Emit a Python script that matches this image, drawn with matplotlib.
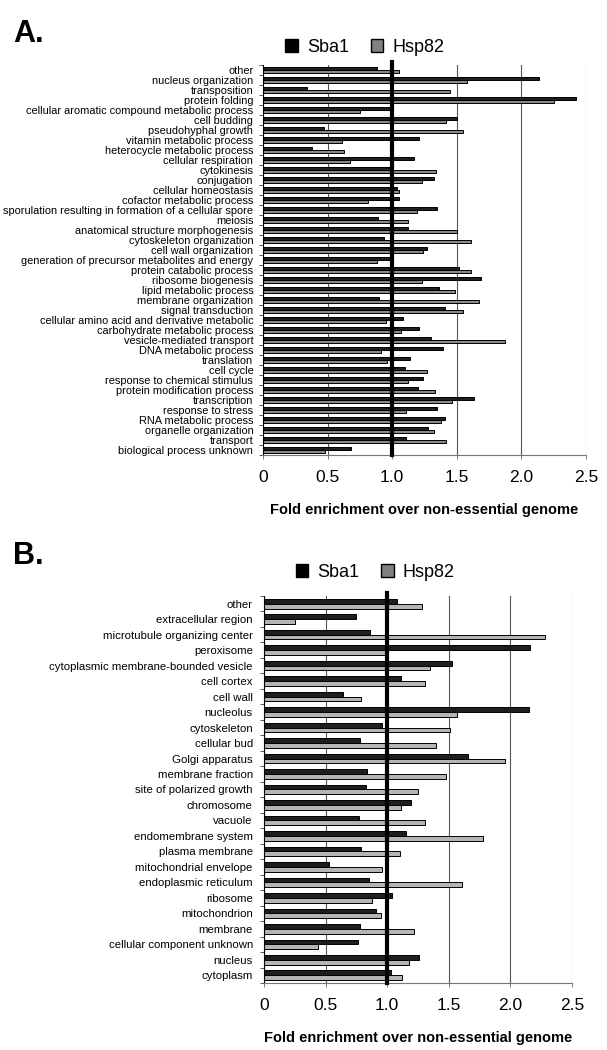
import matplotlib.pyplot as plt
from matplotlib.patches import Patch
import numpy as np

plt.rcParams.update({
    "font.family": ["Liberation Sans", "DejaVu Sans"],
})

# panel A: biological process categories (top to bottom)
process_names = [
    'other', 'nucleus organization', 'transposition', 'protein folding',
    'cellular aromatic compound metabolic process', 'cell budding',
    'pseudohyphal growth', 'vitamin metabolic process',
    'heterocycle metabolic process', 'cellular respiration', 'cytokinesis',
    'conjugation', 'cellular homeostasis', 'cofactor metabolic process',
    'sporulation resulting in formation of a cellular spore', 'meiosis',
    'anatomical structure morphogenesis', 'cytoskeleton organization',
    'cell wall organization', 'generation of precursor metabolites and energy',
    'protein catabolic process', 'ribosome biogenesis',
    'lipid metabolic process', 'membrane organization', 'signal transduction',
    'cellular amino acid and derivative metabolic',
    'carbohydrate metabolic process', 'vesicle-mediated transport',
    'DNA metabolic process', 'translation', 'cell cycle',
    'response to chemical stimulus', 'protein modification process',
    'transcription', 'response to stress', 'RNA metabolic process',
    'organelle organization', 'transport', 'biological process unknown',
]
process_sba1 = [0.88, 2.14, 0.34, 2.42, 1.00, 1.50, 0.47, 1.21, 0.38, 1.17,
                1.00, 1.32, 1.04, 1.05, 1.35, 0.89, 1.12, 0.94, 1.27, 1.00,
                1.52, 1.69, 1.36, 0.90, 1.41, 1.08, 1.21, 1.30, 1.39, 1.14,
                1.10, 1.24, 1.20, 1.63, 1.35, 1.41, 1.28, 1.11, 0.68]
process_hsp82 = [1.05, 1.58, 1.45, 2.25, 0.75, 1.42, 1.55, 0.61, 0.63, 0.67,
                 1.34, 1.23, 1.05, 0.81, 1.19, 1.12, 1.50, 1.61, 1.24, 0.88,
                 1.61, 1.23, 1.49, 1.67, 1.55, 0.95, 1.07, 1.87, 0.91, 0.96,
                 1.27, 1.12, 1.33, 1.46, 1.11, 1.38, 1.32, 1.42, 0.48]

# panel B: cellular component categories (top to bottom)
component_names = [
    'other', 'extracellular region', 'microtubule organizing center',
    'peroxisome', 'cytoplasmic membrane-bounded vesicle', 'cell cortex',
    'cell wall', 'nucleolus', 'cytoskeleton', 'cellular bud',
    'Golgi apparatus', 'membrane fraction', 'site of polarized growth',
    'chromosome', 'vacuole', 'endomembrane system', 'plasma membrane',
    'mitochondrial envelope', 'endoplasmic reticulum', 'ribosome',
    'mitochondrion', 'membrane', 'cellular component unknown', 'nucleus',
    'cytoplasm',
]
component_sba1 = [1.08, 0.75, 0.86, 2.16, 1.53, 1.11, 0.64, 2.15, 0.96, 0.78,
                  1.66, 0.84, 0.83, 1.19, 0.77, 1.15, 0.79, 0.53, 0.85, 1.04,
                  0.91, 0.78, 0.76, 1.26, 1.03]
component_hsp82 = [1.28, 0.25, 2.28, 0.99, 1.35, 1.31, 0.79, 1.57, 1.51, 1.40,
                   1.96, 1.48, 1.25, 1.11, 1.31, 1.78, 1.10, 0.96, 1.61, 0.88,
                   0.95, 1.22, 0.44, 1.18, 1.12]

xticks = [0, 0.5, 1.0, 1.5, 2.0, 2.5]
xtick_labels = ['0', '0.5', '1.0', '1.5', '2.0', '2.5']

fig = plt.figure(figsize=(6.07, 10.5), dpi=100)
ax1 = fig.add_axes([0.4333, 0.5667, 0.532, 0.3714])
ax2 = fig.add_axes([0.4349, 0.0638, 0.5074, 0.3686])

sba1_color = '#1e1e1e'


def plot_panel(ax, names, sba1, hsp82, bar_h, hsp_color, label_size, label_pad):
    pos = np.arange(len(names))
    ax.barh(pos - bar_h / 2, sba1, bar_h, color=sba1_color,
            edgecolor='black', linewidth=0.7, zorder=2)
    ax.barh(pos + bar_h / 2, hsp82, bar_h, color=hsp_color,
            edgecolor='black', linewidth=0.7, zorder=2)
    ax.axvline(1.0, color='black', lw=3, zorder=3, ymax=1.008, clip_on=False)

    ax.set_xlim(0, 2.5)
    ax.set_ylim(len(names) - 0.5, -0.5)
    ax.set_yticks(pos)
    ax.set_yticklabels(names, fontsize=label_size)
    ax.set_yticks(np.arange(len(names) + 1) - 0.5, minor=True)
    ax.tick_params(axis='y', which='major', length=0, pad=label_pad)
    ax.tick_params(axis='y', which='minor', length=3, width=0.6, color='#444')

    ax.set_xticks(xticks)
    ax.set_xticklabels(xtick_labels, fontsize=12.5)
    ax.tick_params(axis='x', length=3, width=0.6, color='#666', pad=8)
    ax.set_xlabel('Fold enrichment over non-essential genome',
                  fontsize=10.5, fontweight='bold', labelpad=13)

    ax.grid(True, axis='x', color='#555555', lw=0.8, zorder=0)
    ax.set_axisbelow(True)
    for side in ['top', 'right']:
        ax.spines[side].set_visible(False)
    ax.spines['left'].set_linewidth(0.8)
    ax.spines['bottom'].set_color('#777777')
    ax.spines['bottom'].set_linewidth(0.8)


plot_panel(ax1, process_names, process_sba1, process_hsp82, 0.34, '#8a8a8a', 7.9, 7)
plot_panel(ax2, component_names, component_sba1, component_hsp82, 0.31, '#b5b5b5', 8.2, 8)

# legends (placed above each panel)
handles = [Patch(facecolor='black', edgecolor='black'),
           Patch(facecolor='#808080', edgecolor='black')]
for y, x in [(0.955, 0.601), (0.455, 0.618)]:
    fig.legend(handles, ['Sba1', 'Hsp82'], loc='center', bbox_to_anchor=(x, y),
               ncol=2, frameon=False, fontsize=13, handlelength=0.7,
               handleheight=0.7, handletextpad=0.5, columnspacing=1.2)

fig.text(0.022, 0.982, 'A.', fontsize=22, fontweight='bold', va='top')
fig.text(0.022, 0.485, 'B.', fontsize=22, fontweight='bold', va='top')

plt.savefig('out.png', dpi=100)
